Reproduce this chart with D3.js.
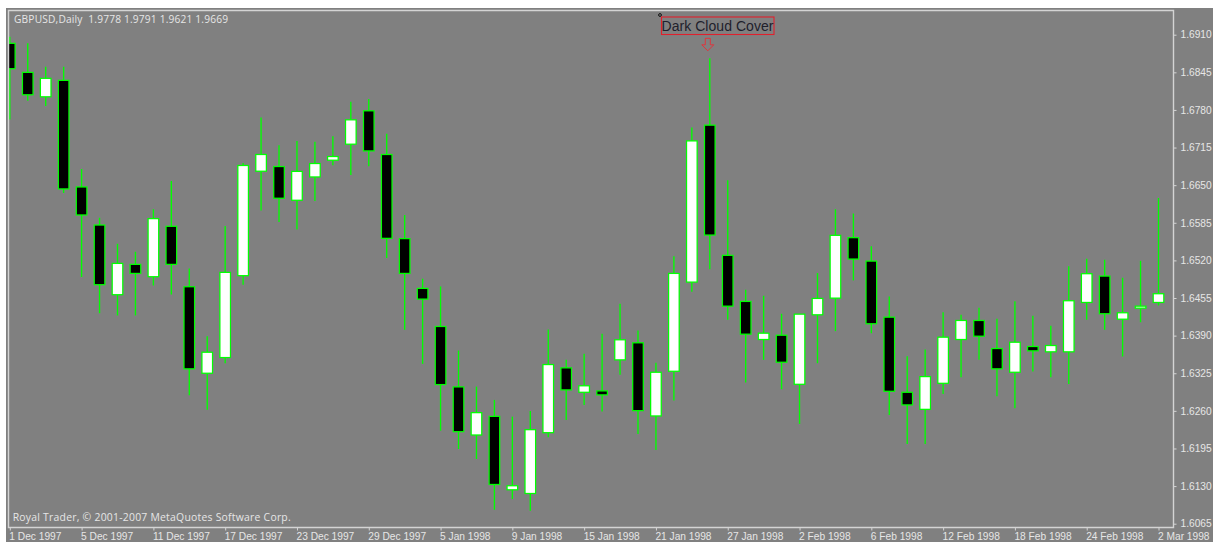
<!DOCTYPE html>
<html><head><meta charset="utf-8">
<style>html,body{margin:0;padding:0;background:#fff;overflow:hidden}svg{display:block}</style>
<script src="https://cdn.jsdelivr.net/npm/d3@7/dist/d3.min.js"></script>
</head><body><svg id="c" width="1213" height="542"></svg>
<script>
const opens=[1.68951,1.68449,1.68027,1.68311,1.66469,1.65811,1.64607,1.65131,1.64918,1.65789,1.64745,1.6325,1.63521,1.64936,1.66741,1.66822,1.66239,1.66642,1.66931,1.67208,1.67785,1.6703,1.65576,1.64716,1.64058,1.63014,1.62183,1.62505,1.61236,1.61172,1.62223,1.63343,1.62921,1.62945,1.63481,1.63776,1.62512,1.63284,1.64825,1.67537,1.65287,1.64491,1.63833,1.63907,1.63059,1.6426,1.64548,1.65593,1.65188,1.64219,1.62921,1.62626,1.63076,1.63833,1.64162,1.63677,1.63267,1.63712,1.6362,1.6362,1.64473,1.64929,1.64184,1.64375,1.64473];
const highs=[1.69066,1.68951,1.68546,1.68546,1.66781,1.65939,1.65489,1.65351,1.66083,1.66573,1.65062,1.6389,1.65794,1.66885,1.67671,1.67191,1.67265,1.67248,1.67347,1.67941,1.67987,1.67387,1.65985,1.64884,1.6475,1.63642,1.63019,1.62789,1.625,1.62599,1.64006,1.63481,1.63585,1.63932,1.64451,1.63989,1.6343,1.6527,1.67497,1.68692,1.66585,1.64693,1.64589,1.64278,1.64271,1.64981,1.66083,1.66009,1.65443,1.64577,1.63544,1.6366,1.64305,1.64261,1.64382,1.64191,1.64496,1.64243,1.6407,1.65097,1.6523,1.65212,1.64901,1.65195,1.66279];
const lows=[1.67636,1.67958,1.67866,1.66365,1.64911,1.64288,1.64248,1.64248,1.64768,1.64612,1.62869,1.62621,1.63423,1.6478,1.66061,1.65863,1.65732,1.66227,1.66845,1.66677,1.66828,1.6524,1.64001,1.63412,1.62258,1.61941,1.61768,1.6089,1.61075,1.60873,1.62142,1.62443,1.62703,1.62587,1.63222,1.622,1.61924,1.62777,1.64659,1.65045,1.64174,1.63089,1.63481,1.62973,1.62374,1.63423,1.63977,1.64854,1.63942,1.62529,1.62027,1.62027,1.62893,1.6318,1.63481,1.62851,1.62644,1.63279,1.6318,1.63066,1.64174,1.64001,1.63539,1.64132,1.64421];
const closes=[1.68512,1.68062,1.68346,1.66435,1.65985,1.6478,1.65148,1.64975,1.65922,1.65131,1.63326,1.63613,1.64993,1.6684,1.6703,1.66274,1.66738,1.66874,1.66995,1.67629,1.67092,1.65581,1.64975,1.64531,1.63054,1.6224,1.62569,1.61328,1.61306,1.62275,1.634,1.62962,1.63033,1.62876,1.63828,1.62604,1.63267,1.64975,1.67265,1.65638,1.64409,1.63925,1.63942,1.6344,1.64271,1.64543,1.65633,1.65223,1.64105,1.62938,1.62703,1.63192,1.63873,1.64162,1.6389,1.63326,1.63786,1.63637,1.63729,1.64503,1.6497,1.64278,1.64295,1.64409,1.64624];
const priceTicks=[1.6910,1.6845,1.6780,1.6715,1.6650,1.6585,1.6520,1.6455,1.6390,1.6325,1.6260,1.6195,1.6130,1.6065];
const dateTickBars=[0,4,8,12,16,20,24,28,32,36,40,44,48,52,56,60,64];
const dateLabels=["1 Dec 1997","5 Dec 1997","11 Dec 1997","17 Dec 1997","23 Dec 1997","29 Dec 1997","5 Jan 1998","9 Jan 1998","15 Jan 1998","21 Jan 1998","27 Jan 1998","2 Feb 1998","6 Feb 1998","12 Feb 1998","18 Feb 1998","24 Feb 1998","2 Mar 1998"];
const titleText="GBPUSD,Daily  1.9778 1.9791 1.9621 1.9669";
const footerText="Royal Trader, © 2001-2007 MetaQuotes Software Corp.";
const patternLabel="Dark Cloud Cover";
const patternBar=39;

const svg=d3.select("#c");
const BG="#808080",FRAME="#d4d4d4",TXT="#e6e6e6",LIME="#00ff00";
const UI='"Open Sans","Noto Sans",sans-serif';
const AX='"Liberation Sans",Arial,sans-serif';
svg.append("rect").attr("x",6).attr("y",8).attr("width",1207).attr("height",534).attr("fill",BG);
const L=8.5,R=1173.5,T=10.5,B=527.5;
svg.append("defs").append("clipPath").attr("id","plot").append("rect").attr("x",L).attr("y",T).attr("width",R-L).attr("height",B-T);
const x=d3.scaleLinear().domain([0,64]).range([9.8,1158.5]);
const y=d3.scaleLinear().domain([1.6910,1.6065]).range([34.7,523.7]);
const plot=svg.append("g").attr("clip-path","url(#plot)");
const idx=d3.range(opens.length);
const bw=10.6;
plot.selectAll("line.w").data(idx).join("line").attr("class","w")
 .attr("x1",i=>x(i)).attr("x2",i=>x(i)).attr("y1",i=>y(highs[i])).attr("y2",i=>y(lows[i]))
 .attr("stroke",LIME).attr("stroke-width",1.35);
plot.selectAll("rect.b").data(idx).join("rect").attr("class","b")
 .attr("x",i=>x(i)-bw/2).attr("width",bw)
 .attr("y",i=>y(Math.max(opens[i],closes[i]))).attr("height",i=>Math.abs(y(opens[i])-y(closes[i])))
 .attr("fill",i=>closes[i]>=opens[i]?"#fff":"#000")
 .attr("stroke",LIME).attr("stroke-width",1.25);
svg.append("path").attr("d",`M${L},${B}V${T}H${R}V${B}Z`).attr("fill","none").attr("stroke",FRAME).attr("stroke-width",1.4);

const yAxis=d3.axisRight(y).tickValues(priceTicks).tickFormat(d3.format(".4f")).tickSize(3).tickPadding(4);
const gy=svg.append("g").attr("transform",`translate(${R},0)`).call(yAxis);
const xAxis=d3.axisBottom(x).tickValues(dateTickBars).tickFormat((d,i)=>dateLabels[i]).tickSize(3).tickPadding(2);
const gx=svg.append("g").attr("transform",`translate(0,${B})`).call(xAxis);
[gy,gx].forEach(g=>{g.select(".domain").remove();g.selectAll("line").attr("stroke",FRAME);
 g.selectAll("text").attr("fill",TXT).attr("font-family",AX).attr("font-size",10.2);});
gx.selectAll("text").attr("text-anchor","start").attr("dx",-1);

svg.append("text").attr("x",14).attr("y",23).style("white-space","pre").attr("fill",TXT).attr("font-family",UI).attr("font-size",10.2).attr("textLength",214).text(titleText);
svg.append("text").attr("x",12.7).attr("y",521).attr("fill",TXT).attr("font-family",UI).attr("font-size",10.4).attr("textLength",278).text(footerText);

// pattern annotation
const ax=x(patternBar)-2;
svg.append("rect").attr("x",661.5).attr("y",17).attr("width",112.5).attr("height",17.5).attr("fill","none").attr("stroke","#e0202c").attr("stroke-width",1.1);
svg.append("text").attr("x",661.5).attr("y",30.5).attr("fill","#20202c").attr("font-family",AX).attr("font-size",14).attr("textLength",112).text(patternLabel);
svg.append("circle").attr("cx",660).attr("cy",15).attr("r",1.4).attr("fill","none").attr("stroke","#111").attr("stroke-width",1);
const ay=y(highs[patternBar]);
svg.append("path").attr("d",`M${ax-2.5},${ay-20}h5v6.5h3.5l-6,6l-6,-6h3.5z`).attr("fill","none").attr("stroke","#e0343c").attr("stroke-width",1);
</script></body></html>
